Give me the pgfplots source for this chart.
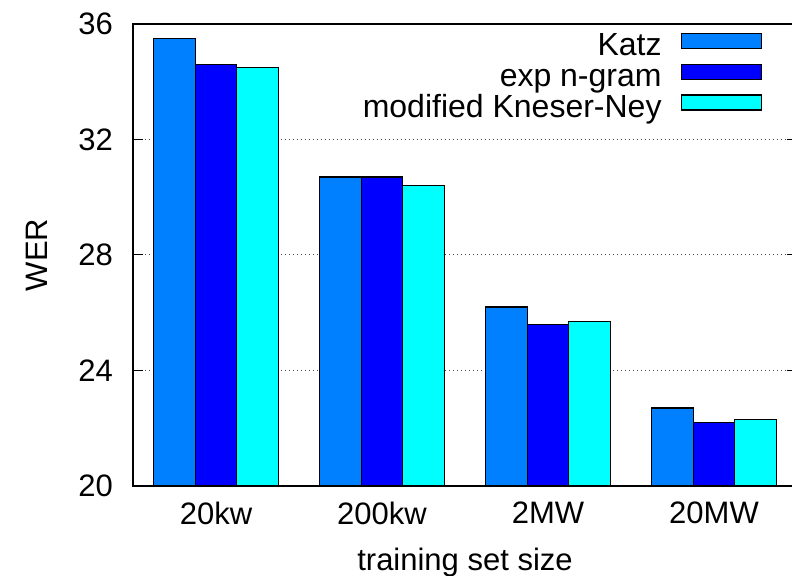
\documentclass[border=0pt]{standalone}
\usepackage{fontspec}
\setmainfont{Liberation Sans}
\usepackage{pgfplots}
\pgfplotsset{compat=1.18}
\definecolor{katz}{RGB}{0,128,255}
\definecolor{expng}{RGB}{0,0,255}
\definecolor{mkn}{RGB}{0,255,255}
\begin{document}
\fontsize{31bp}{36bp}\selectfont
\begin{tikzpicture}
\begin{axis}[
  at={(0,0)}, anchor=south west,
  scale only axis, width=664bp, height=462bp,
  xmin=-0.5, xmax=3.5, ymin=20, ymax=36,
  ytick={20,24,28,32,36},
  xtick={0,1,2,3},
  xticklabels={20kw,200kw,2MW,20MW},
  /pgf/number format/assume math mode=true,
  tick label style={font=\fontsize{31bp}{36bp}\selectfont},
  yticklabel style={inner sep=0pt, xshift=-20bp},
  xticklabel style={inner sep=0pt, yshift=-6bp},
  x tick style={draw=none},
  y tick style={line width=1bp, black},
  major tick length=10bp,
  tick align=inside,
  axis line style={line width=1.4bp, black},
  ymajorgrids,
  grid style={line width=1bp, black!70, dash pattern=on 1.2bp off 2.8bp},
  xlabel={training set size},
  ylabel={WER},
  every axis x label/.style={at={(axis description cs:0.5,0)}, yshift=-76bp, anchor=center, font=\fontsize{31bp}{36bp}\selectfont},
  every axis y label/.style={at={(axis description cs:0,0.5)}, xshift=-96bp, rotate=90, anchor=center, font=\fontsize{31bp}{36bp}\selectfont},
  ybar, bar width=0.25,
  legend plot pos=right,
  legend cell align=right,
  legend image code/.code={\draw[#1] (0bp,0bp) rectangle (80bp,15bp);},
  legend style={draw=none, fill=none, at={(axis description cs:0.9473,0.9805)}, anchor=north east,
    font=\fontsize{32bp}{36bp}\selectfont,
    nodes={inner sep=0pt, text height=22bp, text depth=8bp},
    row sep=0pt, column sep=19bp, inner sep=0pt},
]
\addplot+[bar shift=-0.25, fill=katz, draw=black, line width=1.2bp] coordinates {(0,35.5) (1,30.7) (2,26.2) (3,22.7)};
\addlegendentry{Katz}
\addplot+[bar shift=0, fill=expng, draw=black, line width=1.2bp] coordinates {(0,34.6) (1,30.7) (2,25.6) (3,22.2)};
\addlegendentry{exp n-gram}
\addplot+[bar shift=0.25, fill=mkn, draw=black, line width=1.2bp] coordinates {(0,34.5) (1,30.4) (2,25.7) (3,22.3)};
\addlegendentry{modified Kneser-Ney}
\end{axis}
\pgfresetboundingbox
\path[use as bounding box] (-133bp,-90bp) rectangle (659bp,486bp);
\end{tikzpicture}
\end{document}
